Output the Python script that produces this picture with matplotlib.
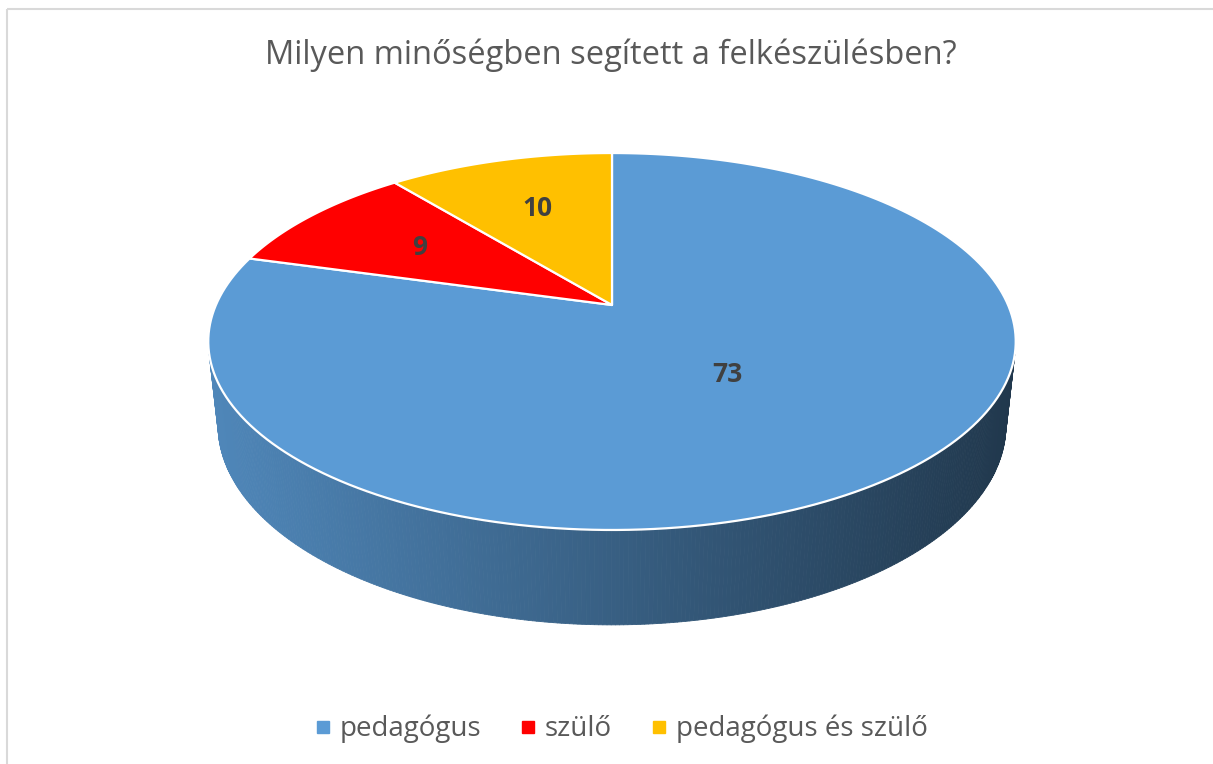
import numpy as np
import matplotlib.pyplot as plt
from matplotlib.collections import PolyCollection
from matplotlib.patches import Polygon, Rectangle
from matplotlib.lines import Line2D

title = "Milyen minőségben segített a felkészülésben?"
categories = ["pedagógus", "szülő", "pedagógus és szülő"]
values = [73, 9, 10]
colors = ["#5B9BD5", "#FF0000", "#FFC000"]
label_radius = [0.45, 0.62, 0.63]

# simple perspective camera, everything in pixel space
CX, CY = 612, 305
FOCAL = 1818
DIST = 4.59
PITCH = np.arcsin(0.458)
DEPTH = 0.239


def project(x, z, y=0.0):
    """Project a point of the unit pie (y up, z toward viewer) to pixels."""
    v = y * np.cos(PITCH) - z * np.sin(PITCH)
    w = y * np.sin(PITCH) + z * np.cos(PITCH)
    d = DIST - w
    return CX + FOCAL * x / d, CY - FOCAL * v / d


def rim(alpha, r=1.0, y=0.0):
    # alpha measured clockwise from 12 o'clock (the back of the pie)
    return project(r * np.sin(alpha), -r * np.cos(alpha), y)


def shade(hex_color, f):
    c = np.array([int(hex_color[i:i + 2], 16) for i in (1, 3, 5)]) / 255
    return tuple(np.clip(c * f, 0, 1))


fig = plt.figure(figsize=(12.13, 7.64), dpi=100)
ax = fig.add_axes([0, 0, 1, 1])
ax.set_xlim(0, 1213)
ax.set_ylim(764, 0)
ax.axis('off')

ax.add_patch(Rectangle((7, 9), 1300, 900, fill=False, ec='#d9d9d9', lw=1.5))

total = sum(values)
bounds = np.concatenate([[0], np.cumsum(values)]) / total * 2 * np.pi

# --- side wall ---
cam = np.array([0, DIST * np.sin(PITCH), DIST * np.cos(PITCH)])
segs, seg_cols, seg_depth = [], [], []
n = 720
for k in range(len(values)):
    a = np.linspace(bounds[k], bounds[k + 1], max(int(n * values[k] / total), 2) + 1)
    for a0, a1 in zip(a[:-1], a[1:]):
        am = 0.5 * (a0 + a1)
        p = np.array([np.sin(am), 0, -np.cos(am)])
        if np.dot(p, cam - p) <= 0:
            continue
        x0t, y0t = rim(a0)
        x1t, y1t = rim(a1)
        x0b, y0b = rim(a0, y=-DEPTH)
        x1b, y1b = rim(a1, y=-DEPTH)
        segs.append([(x0t, y0t), (x1t, y1t), (x1b, y1b), (x0b, y0b)])
        xm = 0.5 * (x0t + x1t)
        f = 0.87 - 0.51 * (xm - 208) / (1016 - 208)
        seg_cols.append(shade(colors[k], f))
        seg_depth.append(-np.cos(am))
order = np.argsort(seg_depth)
ax.add_collection(PolyCollection([segs[i] for i in order],
                                 facecolors=[seg_cols[i] for i in order],
                                 edgecolors=[seg_cols[i] for i in order],
                                 linewidths=0.6))

# --- top face ---
for k in range(len(values)):
    a = np.linspace(bounds[k], bounds[k + 1], 200)
    xs, ys = rim(a)
    pts = [project(0, 0)] + list(zip(xs, ys))
    ax.add_patch(Polygon(pts, closed=True, fc=colors[k], ec='white', lw=1.6,
                         joinstyle='round'))

# --- data labels ---
for k in range(len(values)):
    am = 0.5 * (bounds[k] + bounds[k + 1])
    lx, ly = rim(am, r=label_radius[k])
    ax.text(lx, ly, str(values[k]), ha='center', va='center', fontsize=19,
            fontweight='bold', color='#404040', family='Open Sans')

fig.text(611 / 1213, 1 - 55 / 764, title, ha='center', va='center',
         fontsize=23.5, color='#595959', family='Open Sans')

handles = [Line2D([], [], ls='', marker='s', ms=9, mfc=c, mec=c) for c in colors]
fig.legend(handles, categories, loc='center', bbox_to_anchor=(621 / 1213, 1 - 729 / 764),
           ncol=3, frameon=False, handlelength=0.6, handletextpad=0.3,
           columnspacing=1.4, prop={'family': 'Open Sans', 'size': 20},
           labelcolor='#595959')

fig.savefig('out.png', dpi=100, facecolor='white')
